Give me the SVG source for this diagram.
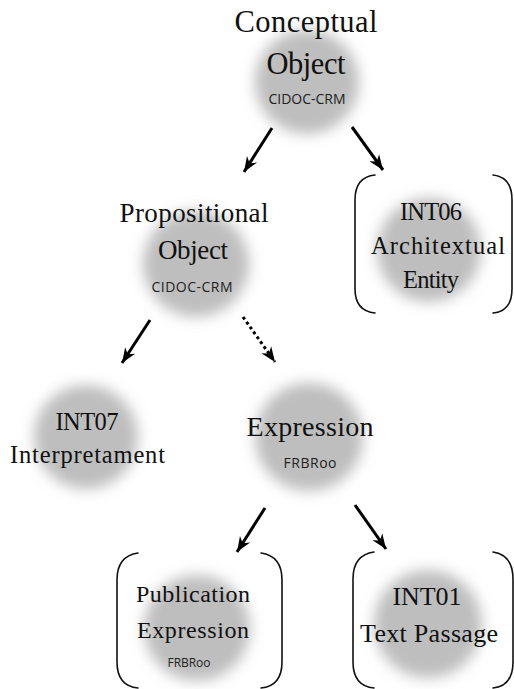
<svg xmlns="http://www.w3.org/2000/svg" width="514" height="689" viewBox="0 0 514 689">
  <style>
    .blob { fill: #bebebe; filter: url(#soft); }
    .lbl { font-family: "Liberation Serif", "Times New Roman", serif; fill: #111; text-anchor: middle; }
    .src { font-family: "Open Sans", "Liberation Sans", sans-serif; fill: #222; text-anchor: middle; }
    .bracket { fill: none; stroke: #111; stroke-width: 1.6; stroke-linecap: round; }
    .link { fill: none; stroke: #000; stroke-width: 3; marker-end: url(#head); }
    .dotted { stroke-dasharray: 3 3; }
  </style>
  <defs>
    <filter id="soft" x="-50%" y="-50%" width="200%" height="200%">
      <feGaussianBlur stdDeviation="7"/>
    </filter>
    <!-- notched, filled arrowhead; the tip sits on the line end -->
    <marker id="head" viewBox="0 0 16 14" refX="15" refY="7" markerWidth="16" markerHeight="14" markerUnits="userSpaceOnUse" orient="auto">
      <path d="M0,1 L15,7 L0,13 L4.5,7 Z" fill="#000"/>
    </marker>
  </defs>

  <g id="conceptual-object">
    <circle class="blob" cx="307" cy="82" r="52"/>
    <text class="lbl" x="306" y="32" font-size="30.5" textLength="143">Conceptual</text>
    <text class="lbl" x="306" y="74" font-size="30.5" textLength="79">Object</text>
    <text class="src" x="307" y="104" font-size="14" textLength="77">CIDOC-CRM</text>
  </g>

  <g id="propositional-object">
    <circle class="blob" cx="196" cy="264" r="53"/>
    <text class="lbl" x="194" y="222" font-size="27" textLength="149">Propositional</text>
    <text class="lbl" x="193" y="259" font-size="27" textLength="70">Object</text>
    <text class="src" x="192" y="292" font-size="14" textLength="81">CIDOC-CRM</text>
  </g>

  <g id="int06-architextual-entity">
    <circle class="blob" cx="429" cy="250" r="52"/>
    <path class="bracket" d="M375,175 Q355,177 355,200 L355,289 Q355,311 375,313"/>
    <path class="bracket" d="M493,175 Q512,177 512,200 L512,289 Q512,311 493,313"/>
    <text class="lbl" x="431" y="220" font-size="24.5" textLength="62">INT06</text>
    <text class="lbl" x="438" y="254" font-size="24.5" textLength="134">Architextual</text>
    <text class="lbl" x="431" y="288" font-size="24.5" textLength="56">Entity</text>
  </g>

  <g id="int07-interpretament">
    <circle class="blob" cx="86" cy="437" r="52"/>
    <text class="lbl" x="87" y="430" font-size="24.5" textLength="63">INT07</text>
    <text class="lbl" x="87.5" y="463" font-size="24.5" textLength="155">Interpretament</text>
  </g>

  <g id="expression">
    <circle class="blob" cx="309" cy="437" r="54"/>
    <text class="lbl" x="310" y="436" font-size="28" textLength="127">Expression</text>
    <text class="src" x="310" y="468" font-size="14" textLength="53">FRBRoo</text>
  </g>

  <g id="publication-expression">
    <circle class="blob" cx="197" cy="628" r="53"/>
    <path class="bracket" d="M138,553 Q117,556 117,580 L117,662 Q117,686 138,688"/>
    <path class="bracket" d="M261,553 Q282,556 282,580 L282,662 Q282,686 261,688"/>
    <text class="lbl" x="193" y="602" font-size="24" textLength="114">Publication</text>
    <text class="lbl" x="193" y="638" font-size="24" textLength="112">Expression</text>
    <text class="src" x="189" y="667" font-size="12" textLength="43">FRBRoo</text>
  </g>

  <g id="int01-text-passage">
    <circle class="blob" cx="428" cy="624" r="54"/>
    <path class="bracket" d="M374,552 Q353,555 353,579 L353,662 Q353,686 374,688"/>
    <path class="bracket" d="M493,552 Q513,555 513,579 L513,662 Q513,686 493,688"/>
    <text class="lbl" x="427" y="605" font-size="26" textLength="69">INT01</text>
    <text class="lbl" x="429" y="642" font-size="26" textLength="138">Text Passage</text>
  </g>

  <g id="connectors">
    <line class="link" x1="272" y1="128" x2="244" y2="172"/>
    <line class="link" x1="352" y1="127" x2="383" y2="170"/>
    <line class="link" x1="150" y1="320" x2="122" y2="363"/>
    <line class="link dotted" x1="243" y1="317" x2="275" y2="362"/>
    <line class="link" x1="265" y1="508" x2="237" y2="552"/>
    <line class="link" x1="355" y1="505" x2="386" y2="549"/>
  </g>
</svg>
